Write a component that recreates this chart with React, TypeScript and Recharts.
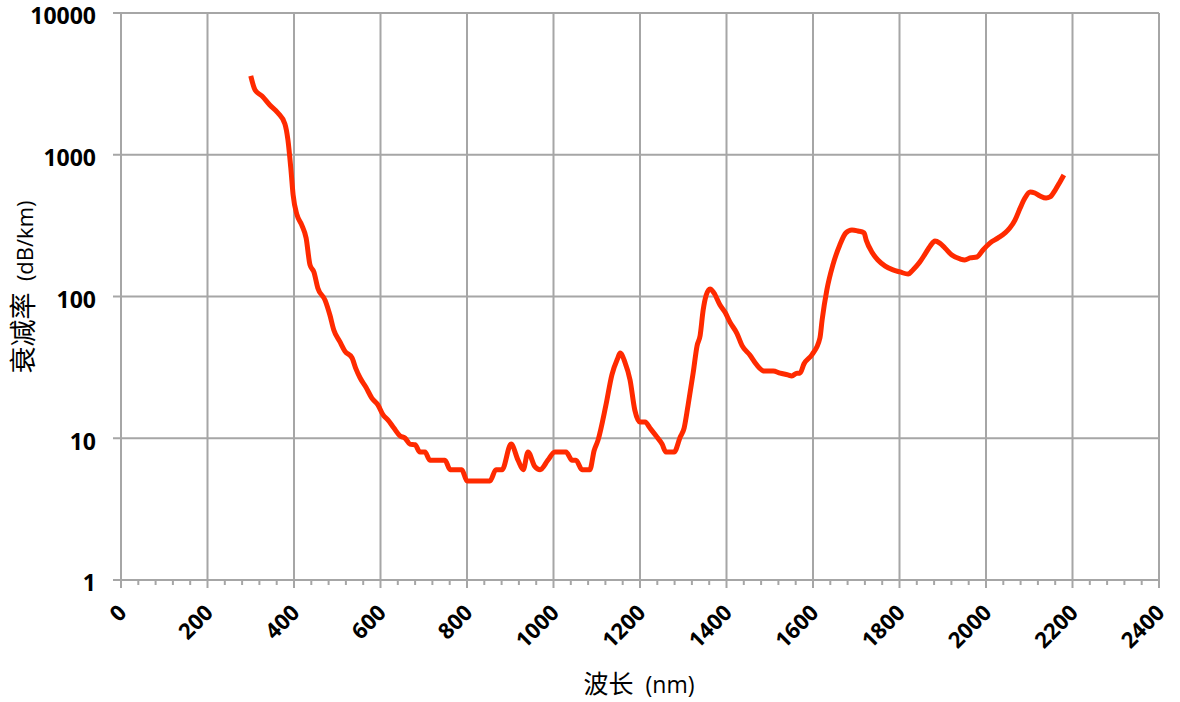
import {
  LineChart,
  Line,
  CartesianGrid,
  XAxis,
  YAxis,
  ReferenceLine,
} from "recharts";

// wavelength (nm)
const wavelength = [
  300, 310, 326, 344, 363, 379, 386, 393, 398, 407, 418, 428, 437, 446, 455,
  472, 483, 492, 506, 518, 534, 543, 553, 566, 580, 594, 606, 617, 631, 645,
  657, 668, 680, 691, 703, 714, 749, 761, 788, 800, 853, 867, 881, 902, 918,
  930, 941, 957, 969, 987, 1003, 1029, 1043, 1052, 1066, 1084, 1094, 1103,
  1121, 1135, 1149, 1154, 1165, 1177, 1188, 1200, 1212, 1223, 1237, 1251,
  1260, 1279, 1293, 1302, 1311, 1323, 1332, 1339, 1346, 1353, 1362, 1371,
  1385, 1397, 1408, 1424, 1436, 1454, 1470, 1487, 1508, 1524, 1542, 1551,
  1563, 1570, 1579, 1598, 1616, 1621, 1632, 1646, 1662, 1676, 1690, 1704,
  1718, 1723, 1736, 1750, 1767, 1785, 1801, 1820, 1831, 1847, 1859, 1871,
  1882, 1893, 1905, 1921, 1940, 1951, 1963, 1979, 1993, 2009, 2028, 2044,
  2055, 2067, 2079, 2090, 2102, 2113, 2125, 2139, 2148, 2160, 2171, 2180,
];

// attenuation (dB/km)
const attenuation = [
  3600, 2860, 2600, 2245, 1970, 1650, 1270, 780, 520, 376, 319, 259, 167, 149,
  115, 94, 74, 58, 48, 41, 37, 31, 26.6, 23, 19.2, 17.2, 14.6, 13.5, 11.8,
  10.4, 10, 9.1, 9, 8, 8, 7, 7, 6, 6, 5, 5, 6, 6, 9.1, 7, 6, 8, 6.3, 6, 7, 8,
  8, 7, 7, 6, 6, 8.2, 9.7, 17, 28, 37, 40, 34.5, 25.8, 15.8, 13, 13, 11.8,
  10.4, 9.1, 8, 8, 10.2, 11.8, 17, 29, 45, 53, 80, 102, 113, 106, 87, 77, 66,
  55, 45, 38.7, 32.9, 29.8, 29.8, 28.8, 28, 27.5, 28.8, 28.8, 33.4, 39, 51,
  68, 111, 167, 231, 281, 295, 290, 281, 250, 206, 181, 164, 154, 149, 144,
  154, 175, 199, 227, 246, 238, 220, 196, 184, 181, 187, 190, 213, 238, 259,
  281, 304, 346, 421, 495, 546, 537, 512, 495, 504, 564, 643, 720,
];

const xMajorTicks = [0, 200, 400, 600, 800, 1000, 1200, 1400, 1600, 1800, 2000, 2200, 2400];
const xMinorStep = 40;
const yTicks = [1, 10, 100, 1000, 10000];

const data = wavelength.map((nm, i) => ({ nm, loss: attenuation[i] }));
const xTicks = Array.from({ length: 2400 / xMinorStep + 1 }, (_, i) => i * xMinorStep);

const GRID = "#a6a6a6";
const LATIN = "'Open Sans', 'Noto Sans CJK SC', sans-serif";
const CJK = "'Noto Sans CJK SC', sans-serif";

function XTick(props: any) {
  const { x, y, payload } = props;
  const major = payload.value % 200 === 0;
  const ax = x + 7;
  const ay = y + 34;
  return (
    <g>
      <line x1={x} x2={x} y1={y} y2={y + (major ? 8 : 5)} stroke={GRID} strokeWidth={2} />
      {major && (
        <text
          x={ax}
          y={ay}
          textAnchor="end"
          transform={`rotate(-45, ${ax}, ${ay})`}
          fontFamily={LATIN}
          fontWeight={700}
          fontSize={22}
          fill="#000"
        >
          {payload.value}
        </text>
      )}
    </g>
  );
}

function YTick(props: any) {
  const { x, y, payload } = props;
  return (
    <text
      x={x}
      y={y + 4}
      dy="0.32em"
      textAnchor="end"
      fontFamily={LATIN}
      fontWeight={700}
      fontSize={23}
      fill="#000"
    >
      {payload.value}
    </text>
  );
}

export default function App() {
  return (
    <div style={{ position: "absolute", left: 0, top: 0, width: 1180, height: 702, background: "#fff" }}>
      <LineChart
        width={1180}
        height={702}
        data={data}
        margin={{ top: 13, right: 21, bottom: 0, left: 0 }}
      >
        <CartesianGrid vertical={false} stroke={GRID} strokeWidth={2} />
        {xMajorTicks.map((t) => (
          <ReferenceLine key={t} x={t} stroke={GRID} strokeWidth={2} />
        ))}
        <XAxis
          dataKey="nm"
          type="number"
          domain={[0, 2400]}
          ticks={xTicks}
          interval={0}
          tickSize={0}
          tickMargin={0}
          tickLine={false}
          axisLine={{ stroke: GRID, strokeWidth: 2 }}
          height={122}
          tick={<XTick />}
          label={{
            content: () => (
              <text x={639} y={693} textAnchor="middle" fill="#000">
                <tspan fontFamily={CJK} fontSize={25}>波长</tspan>
                <tspan fontFamily={LATIN} fontSize={23}>{"\u00a0\u00a0(nm)"}</tspan>
              </text>
            ),
          }}
        />
        <YAxis
          scale="log"
          domain={[1, 10000]}
          ticks={yTicks}
          interval={0}
          allowDataOverflow
          width={121}
          tickSize={8}
          tickMargin={17}
          tickLine={{ stroke: GRID, strokeWidth: 2 }}
          axisLine={false}
          tick={<YTick />}
          label={{
            content: () => (
              <text
                x={33}
                y={287}
                textAnchor="middle"
                transform="rotate(-90, 33, 287)"
                fill="#000"
              >
                <tspan fontFamily={CJK} fontSize={27}>衰减率</tspan>
                <tspan fontFamily={LATIN} fontSize={22}>{"\u00a0\u00a0(dB/km)"}</tspan>
              </text>
            ),
          }}
        />
        <Line
          type="monotone"
          dataKey="loss"
          stroke="#ff2a00"
          strokeWidth={5}
          dot={false}
          isAnimationActive={false}
        />
      </LineChart>
    </div>
  );
}
